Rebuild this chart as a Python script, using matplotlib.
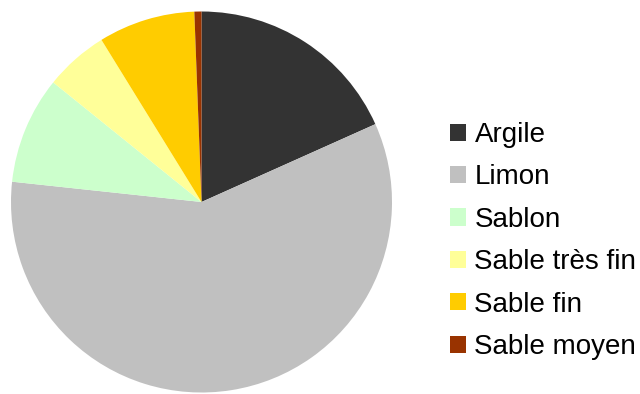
import matplotlib.pyplot as plt
from matplotlib.patches import Patch

plt.rcParams['font.family'] = ['Liberation Sans', 'DejaVu Sans']

# Répartition granulométrique (%)
classes = ['Argile', 'Limon', 'Sablon', 'Sable très fin', 'Sable fin', 'Sable moyen']
parts = [18.3, 58.4, 9.1, 5.4, 8.2, 0.6]
couleurs = ['#333333', '#C0C0C0', '#CCFFCC', '#FFFF99', '#FFCC00', '#993300']

W, H = 640, 394
fig = plt.figure(figsize=(W / 100, H / 100), dpi=100)

# camembert : centre (201.5, 202) px, rayon 190.5 px
cx, cy, r = 201.5, 202, 190.5
ax = fig.add_axes([(cx - r) / W, (H - cy - r) / H, 2 * r / W, 2 * r / H])
ax.pie(parts, colors=couleurs, startangle=90, counterclock=False,
       wedgeprops=dict(linewidth=0))
ax.set_xlim(-1, 1)
ax.set_ylim(-1, 1)
ax.set_aspect('equal')

handles = [Patch(facecolor=c, edgecolor='none') for c in couleurs]
fig.legend(handles, classes, loc='upper left',
           bbox_to_anchor=(450 / W, 1 - 122 / H),
           frameon=False, fontsize=20, handlelength=0.58, handleheight=0.58,
           handletextpad=0.3, labelspacing=0.59, borderaxespad=0, borderpad=0)

fig.savefig('out.png', dpi=100)
